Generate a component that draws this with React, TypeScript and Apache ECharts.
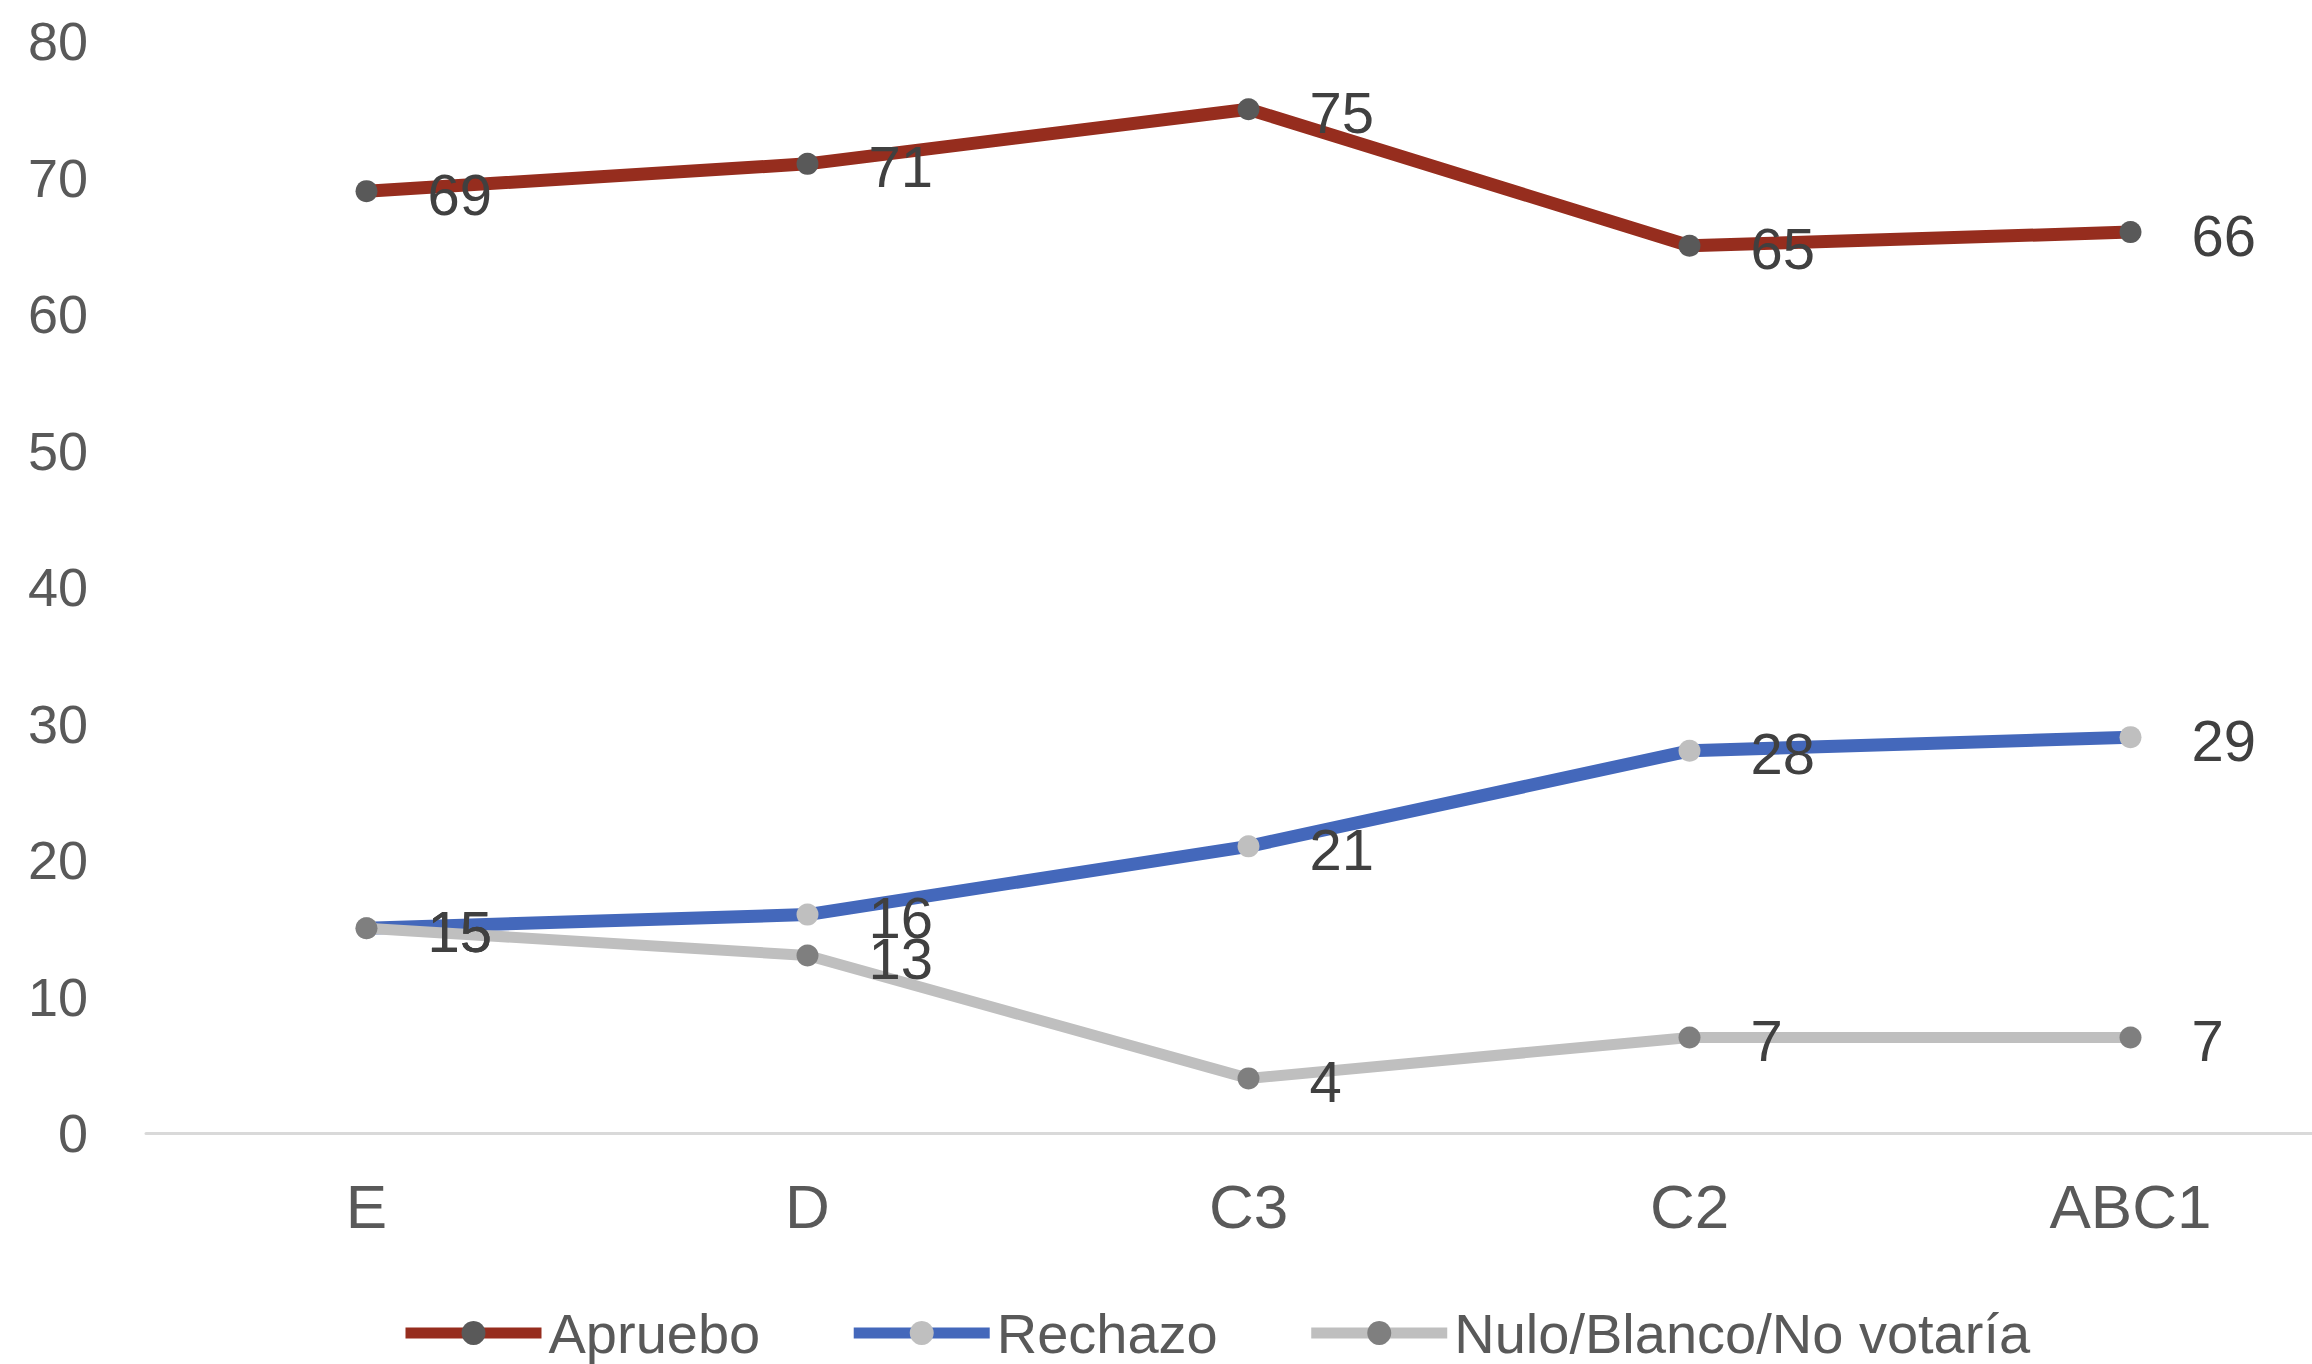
import React, { useEffect, useRef } from "react";
import * as echarts from "echarts";

const categories = ["E", "D", "C3", "C2", "ABC1"];
const apruebo = [69, 71, 75, 65, 66];
const rechazo = [15, 16, 21, 28, 29];
const nulo = [15, 13, 4, 7, 7];
const yTicks = [0, 10, 20, 30, 40, 50, 60, 70, 80];

const FONT = "'Liberation Sans', Arial, sans-serif";

export default function App() {
  const ref = useRef<HTMLDivElement>(null);
  useEffect(() => {
    if (!ref.current) return;
    const chart = echarts.init(ref.current, undefined, { renderer: "svg" });
    const label = {
      show: true,
      position: "right",
      distance: 50,
      offset: [0, 3],
      color: "#404040",
      fontSize: 58,
      fontFamily: FONT,
    };
    const mk = (name: string, data: number[], lineColor: string, markColor: string, width: number) => ({
      name,
      type: "line",
      data,
      symbol: "circle",
      symbolSize: 22,
      lineStyle: { color: lineColor, width },
      itemStyle: { color: markColor },
      label,
      z: 2,
    });
    chart.setOption({
      animation: false,
      backgroundColor: "#ffffff",
      textStyle: { fontFamily: FONT },
      grid: { left: 146, top: 41, right: 9, height: 1092, containLabel: false },
      legend: {
        left: 395,
        top: 1300,
        itemWidth: 136,
        itemHeight: 30,
        itemGap: 88,
        textStyle: { color: "#595959", fontSize: 56, fontFamily: FONT, padding: [0, 0, 0, 2] },
        data: [
          { name: "Apruebo", itemStyle: { color: "#595959" }, lineStyle: { color: "#962d1e", width: 11 } },
          { name: "Rechazo", itemStyle: { color: "#bfbfbf" }, lineStyle: { color: "#4468bb", width: 11 } },
          {
            name: "Nulo/Blanco/No votaría",
            itemStyle: { color: "#7f7f7f" },
            lineStyle: { color: "#bfbfbf", width: 11 },
          },
        ],
      },
      xAxis: {
        type: "category",
        data: categories,
        boundaryGap: true,
        axisLine: { lineStyle: { color: "#d9d9d9", width: 3 } },
        axisTick: { show: false },
        axisLabel: { color: "#595959", fontSize: 62, fontFamily: FONT, margin: 42 },
        splitLine: { show: false },
      },
      yAxis: {
        type: "value",
        min: yTicks[0],
        max: yTicks[yTicks.length - 1],
        interval: 10,
        axisLine: { show: false },
        axisTick: { show: false },
        splitLine: { show: false },
        axisLabel: { color: "#595959", fontSize: 54, fontFamily: FONT, margin: 58 },
      },
      series: [
        mk("Apruebo", apruebo, "#962d1e", "#595959", 13),
        mk("Rechazo", rechazo, "#4468bb", "#bfbfbf", 13),
        mk("Nulo/Blanco/No votaría", nulo, "#bfbfbf", "#7f7f7f", 11),
      ],
    });
    return () => chart.dispose();
  }, []);
  return (
    <div
      style={{
        position: "fixed",
        left: 0,
        top: 0,
        width: 2312,
        height: 1364,
        overflow: "hidden",
        background: "#fff",
      }}
    >
      <div ref={ref} style={{ width: 2360, height: 1364 }} />
    </div>
  );
}
